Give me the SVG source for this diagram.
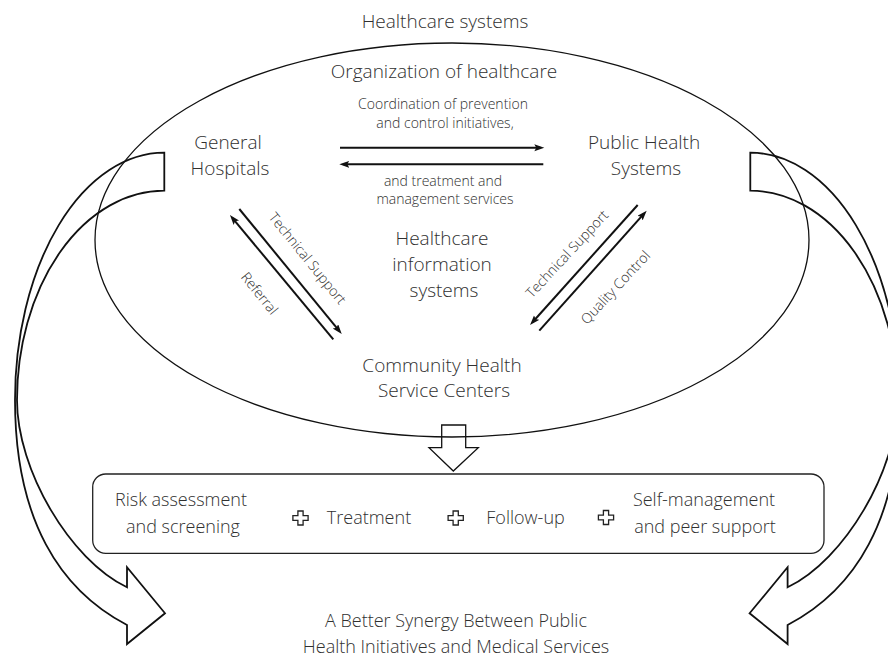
<svg xmlns="http://www.w3.org/2000/svg" xmlns:xlink="http://www.w3.org/1999/xlink" width="888" height="658" viewBox="0 0 888 658">
  <style>
    .t { font-family: "Open Sans", "Noto Sans", "Liberation Sans", sans-serif; font-weight: 300; fill: #303030; text-anchor: middle; }
    .lg { font-size: 19px; }
    .md { font-size: 18px; }
    .sm { font-size: 14px; }
    .line { fill: none; stroke: #111; stroke-width: 1.3; }
    .conn { fill: none; stroke: #111; stroke-width: 2; marker-end: url(#head); }
    .band { fill: none; stroke: #111; stroke-width: 1.8; stroke-linejoin: miter; }
    .plus { fill: #fff; stroke: #222; stroke-width: 1.3; }
  </style>
  <defs>
    <marker id="head" markerUnits="userSpaceOnUse" markerWidth="12" markerHeight="8" refX="6" refY="3.5" orient="auto">
      <path d="M0,0 L10,3.5 L0,7 L2,3.5 Z" fill="#111"/>
    </marker>
    <path id="plusShape" d="M-2.6,-7 H2.6 V-2.4 H7.6 V2.4 H2.6 V7 H-2.6 V2.4 H-7.6 V-2.4 H-2.6 Z"/>
    <!-- curved ribbon arrow sweeping from a node down to the outcome text -->
    <path id="ribbon" d="M164.3,152.7 A149.3,247.3 0 0 0 15,400 C15,520 60,590 127,625 L127,644 L165,613.3 L127,567.3 L127,587.3 C70,560 17,470 17,400 A147.3,209.3 0 0 1 164.3,190.7 Z"/>
  </defs>

  <rect width="888" height="658" fill="#fff"/>

  <!-- outer frame -->
  <g id="healthcare-systems">
    <text class="t lg" x="445" y="28">Healthcare systems</text>
    <ellipse class="line" cx="452" cy="240" rx="357" ry="197"/>
    <text class="t lg" x="444" y="78">Organization of healthcare</text>
  </g>

  <g id="general-hospitals">
    <text class="t lg" x="228" y="149">General</text>
    <text class="t lg" x="230" y="175">Hospitals</text>
  </g>

  <g id="public-health-systems">
    <text class="t lg" x="644" y="149">Public Health</text>
    <text class="t lg" x="646" y="175">Systems</text>
  </g>

  <g id="information-systems">
    <text class="t lg" x="442" y="244.5">Healthcare</text>
    <text class="t lg" x="442" y="270.5">information</text>
    <text class="t lg" x="444" y="296.5">systems</text>
  </g>

  <g id="community-centers">
    <text class="t lg" x="442" y="372">Community Health</text>
    <text class="t lg" x="444" y="397">Service Centers</text>
  </g>

  <g id="services">
    <rect x="92.7" y="474" width="731.3" height="79.3" rx="13" fill="none" stroke="#222" stroke-width="1.3"/>
    <text class="t md" x="181" y="506">Risk assessment</text>
    <text class="t md" x="183" y="533">and screening</text>
    <use href="#plusShape" class="plus" transform="translate(300.5,518)"/>
    <text class="t md" x="369" y="523.5">Treatment</text>
    <use href="#plusShape" class="plus" transform="translate(455.7,518)"/>
    <text class="t md" x="525.5" y="523.5">Follow-up</text>
    <use href="#plusShape" class="plus" transform="translate(606,517.5)"/>
    <text class="t md" x="704" y="506">Self-management</text>
    <text class="t md" x="705" y="533">and peer support</text>
  </g>

  <g id="outcome">
    <text class="t md" x="456" y="627">A Better Synergy Between Public</text>
    <text class="t md" x="456" y="653">Health Initiatives and Medical Services</text>
  </g>

  <g id="connectors">
    <!-- hospitals <-> public health -->
    <line class="conn" x1="340" y1="147.7" x2="540.3" y2="147.7"/>
    <line class="conn" x1="543.3" y1="164.3" x2="343.3" y2="164.3"/>
    <text class="t sm" x="443" y="109">Coordination of prevention</text>
    <text class="t sm" x="445" y="128">and control initiatives,</text>
    <text class="t sm" x="443" y="186">and treatment and</text>
    <text class="t sm" x="445" y="204">management services</text>

    <!-- hospitals <-> community centers -->
    <line class="conn" x1="239.3" y1="209" x2="339.2" y2="330.9"/>
    <line class="conn" x1="333.3" y1="339.3" x2="232.5" y2="218.1"/>
    <text class="t sm" transform="translate(308,258) rotate(51)" dominant-baseline="central">Technical Support</text>
    <text class="t sm" transform="translate(260,293) rotate(51)" dominant-baseline="central">Referral</text>

    <!-- public health <-> community centers -->
    <line class="conn" x1="637.7" y1="205" x2="532.7" y2="322"/>
    <line class="conn" x1="539.3" y1="330.7" x2="644" y2="213.7"/>
    <text class="t sm" transform="translate(566.5,253.5) rotate(-47)" dominant-baseline="central">Technical Support</text>
    <text class="t sm" transform="translate(615,287) rotate(-47)" dominant-baseline="central">Quality Control</text>

    <!-- community centers down to services -->
    <path class="line" stroke-width="1.6" d="M441.7,425 H465.7 V447.7 H478.3 L453.3,471 L429,447.7 H441.7 Z"/>

    <!-- sweeping arrows to the outcome -->
    <use href="#ribbon" class="band"/>
    <use href="#ribbon" class="band" transform="matrix(-1 0 0 1 914.6 0)"/>
  </g>
</svg>
